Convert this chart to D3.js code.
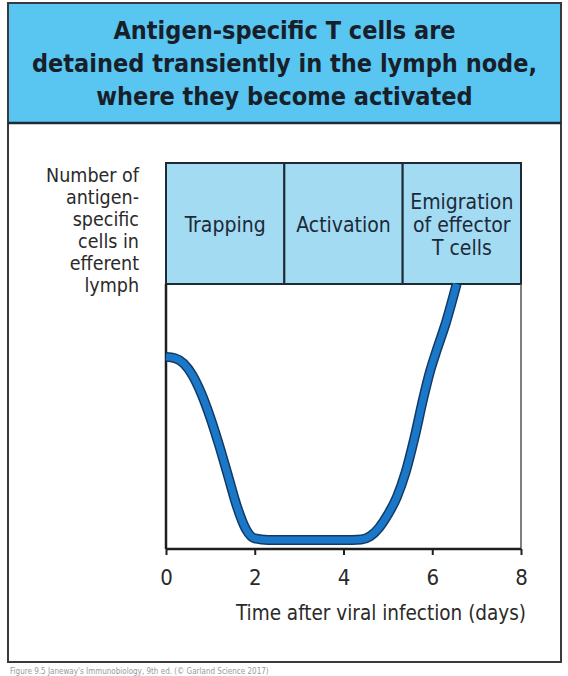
<!DOCTYPE html>
<html>
<head>
<meta charset="utf-8">
<script src="https://cdn.jsdelivr.net/npm/d3@7"></script>
<style>
  html, body { margin: 0; padding: 0; background: #fff; }
  svg { display: block; }
  text { font-family: "DejaVu Sans Condensed", "Liberation Sans Narrow", sans-serif; fill: #222; }
</style>
</head>
<body>
<svg id="chart" width="568" height="676"></svg>
<script>
// ---- data ----
const titleLines = ["Antigen-specific T cells are", "detained transiently in the lymph node,", "where they become activated"];
const yLabelLines = ["Number of", "antigen-", "specific", "cells in", "efferent", "lymph"];
const phaseNames = [["Trapping"], ["Activation"], ["Emigration", "of effector", "T cells"]];
const phaseBounds = [0, 8 / 3, 16 / 3, 8];
const xTicks = [0, 2, 4, 6, 8];
const xTitle = "Time after viral infection (days)";
const footer = "Figure 9.5 Janeway's Immunobiology, 9th ed. (© Garland Science 2017)";
const days  = [0, 0.2, 0.4, 0.6, 0.8, 1.0, 1.2, 1.4, 1.6, 1.8, 2.0, 2.3, 3.0, 4.0, 4.4, 4.6, 4.8, 5.0, 5.2, 5.4, 5.6, 5.8, 5.95, 6.1, 6.3, 6.55];
const cells = [72.5, 72, 70, 65.5, 58.5, 49.5, 39, 27.5, 16, 7.5, 4, 3.4, 3.4, 3.4, 3.6, 4.8, 8, 13, 19.5, 29, 42, 57, 67, 75, 85, 100];

// ---- layout ----
const svg = d3.select("#chart");
const plot = { left: 166, right: 521, top: 284, bottom: 549 };
const box = { top: 163, bottom: 284 };
const x = d3.scaleLinear().domain([0, 8]).range([plot.left, plot.right]);
const y = d3.scaleLinear().domain([0, 100]).range([plot.bottom, plot.top]);

// outer frame
svg.append("rect").attr("x", 8).attr("y", 3).attr("width", 553).attr("height", 659)
  .attr("fill", "#fff").attr("stroke", "#3a3a3a").attr("stroke-width", 2);
// header
svg.append("rect").attr("x", 8).attr("y", 3).attr("width", 553).attr("height", 120)
  .attr("fill", "#58c6f0").attr("stroke", "#3a3a3a").attr("stroke-width", 2);
svg.append("line").attr("x1", 8).attr("x2", 561).attr("y1", 123).attr("y2", 123)
  .attr("stroke", "#1e2a36").attr("stroke-width", 2.5);
svg.append("g").selectAll("text").data(titleLines).join("text")
  .attr("x", 284.5).attr("y", (d, i) => 39 + i * 33)
  .attr("text-anchor", "middle").attr("font-size", 25).attr("font-weight", "bold")
  .style("fill", "#17202a").text(d => d);

// phase boxes
const phases = svg.append("g");
phases.selectAll("rect").data(phaseNames).join("rect")
  .attr("x", (d, i) => x(phaseBounds[i])).attr("y", box.top)
  .attr("width", (d, i) => x(phaseBounds[i + 1]) - x(phaseBounds[i]))
  .attr("height", box.bottom - box.top)
  .attr("fill", "#a3dbf3").attr("stroke", "#1e2a36").attr("stroke-width", 2);
phases.selectAll("g.lbl").data(phaseNames).join("g").attr("class", "lbl")
  .each(function (lines, i) {
    const cx = (x(phaseBounds[i]) + x(phaseBounds[i + 1])) / 2;
    const cy = (box.top + box.bottom) / 2;
    const lh = 23;
    d3.select(this).selectAll("text").data(lines).join("text")
      .attr("x", cx).attr("y", (d, j) => cy + 8 + (j - (lines.length - 1) / 2) * lh)
      .attr("text-anchor", "middle").attr("font-size", 21).style("fill", "#1c2a38")
      .text(d => d);
  });

// y label
svg.append("g").selectAll("text").data(yLabelLines).join("text")
  .attr("x", 139).attr("y", (d, i) => 182 + i * 22)
  .attr("text-anchor", "end").attr("font-size", 19.5).style("fill", "#2a2a2a").text(d => d);

// plot frame sides
svg.append("line").attr("x1", plot.left).attr("x2", plot.left).attr("y1", plot.top).attr("y2", plot.bottom)
  .attr("stroke", "#1e1e1e").attr("stroke-width", 2.5);
svg.append("line").attr("x1", plot.right).attr("x2", plot.right).attr("y1", plot.top).attr("y2", plot.bottom)
  .attr("stroke", "#555").attr("stroke-width", 1.5);

// x axis
const xAxis = svg.append("g").attr("transform", `translate(0,${plot.bottom})`)
  .call(d3.axisBottom(x).tickValues(xTicks).tickSize(6).tickPadding(14).tickFormat(d3.format("d")));
xAxis.select(".domain").attr("stroke", "#1e1e1e").attr("stroke-width", 2.5)
  .attr("d", `M${plot.left},0H${plot.right}`);
xAxis.selectAll(".tick line").attr("stroke", "#1e1e1e").attr("stroke-width", 2);
xAxis.selectAll(".tick text").attr("font-size", 22).attr("font-family", null).style("fill", "#2a2a2a");

svg.append("text").attr("x", 381).attr("y", 620).attr("text-anchor", "middle")
  .attr("font-size", 20.5).style("fill", "#2a2a2a").text(xTitle);

// curve
const line = d3.line().x((d, i) => x(days[i])).y(d => y(d)).curve(d3.curveMonotoneX);
svg.append("path").datum(cells).attr("d", line).attr("fill", "none")
  .attr("stroke", "#123a66").attr("stroke-width", 10).attr("stroke-linecap", "butt");
svg.append("path").datum(cells).attr("d", line).attr("fill", "none")
  .attr("stroke", "#1b78c8").attr("stroke-width", 7).attr("stroke-linecap", "butt");

// footer
svg.append("text").attr("x", 10).attr("y", 674).attr("font-size", 8)
  .style("fill", "#999").text(footer);
</script>
</body>
</html>
